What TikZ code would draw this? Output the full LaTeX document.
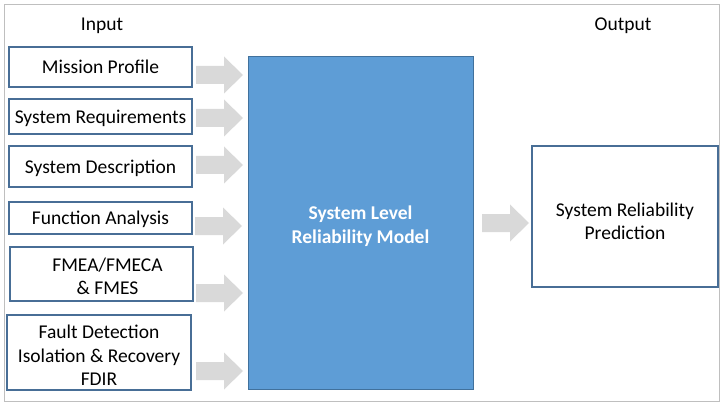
\documentclass[tikz,border=0pt]{standalone}
\usepackage{fontspec}
\setmainfont{Carlito}
\definecolor{boxline}{RGB}{72,110,150}
\definecolor{modelblue}{RGB}{94,157,214}
\definecolor{modelline}{RGB}{65,113,156}
\definecolor{arrowgray}{RGB}{217,217,217}
\definecolor{framegray}{RGB}{191,191,191}
\begin{document}
\begin{tikzpicture}[x=1pt,y=-1pt,
  txt/.style={font=\fontsize{19.5}{23.5}\selectfont, align=center, inner sep=0pt},
  inbox/.style={txt, draw=boxline, line width=1.1pt, fill=white, minimum width=183pt, text height=13.5pt, text depth=0pt},
  blockarrow/.pic={\fill[arrowgray] (0,-9)--(28,-9)--(28,-18.5)--(47,0)--(28,18.5)--(28,9)--(0,9)--cycle;}
]
\useasboundingbox (0,0) rectangle (726,409);
\draw[framegray, line width=1pt] (4,5) rectangle (719,401);

\node[txt] (inlabel) at (102,26) {Input};
\node[txt] (outlabel) at (623,26) {Output};

\node[inbox, minimum height=40pt] (mp) at (100.5,67) {Mission Profile};
\node[inbox, minimum height=35pt] (sr) at (100.5,116.5) {System Requirements};
\node[inbox, minimum height=41pt] (sd) at (100.5,166.5) {System Description};
\node[inbox, minimum height=32pt] (fa) at (100.5,218) {Function Analysis};
\node[inbox, minimum height=54pt,
  label={[txt, yshift=-2.5pt]center:{\hspace*{12pt}FMEA/FMECA\\\hspace*{12pt}\& FMES}}] (fm) at (101.5,274) {};
\node[inbox, minimum height=75pt, minimum width=184pt,
  label={[txt, yshift=-3pt]center:{Fault Detection\\Isolation \& Recovery\\FDIR}}] (fd) at (99,352.5) {};

\node[draw=modelline, line width=1pt, fill=modelblue, inner sep=0pt,
  minimum width=225pt, minimum height=332pt,
  label={[txt, text=white, font=\fontsize{19.5}{23.5}\selectfont\bfseries, yshift=-3pt]center:{System Level\\Reliability Model}}] (model) at (360.5,223) {};

\node[draw=boxline, line width=1.1pt, fill=white, inner sep=0pt, minimum width=186pt, minimum height=141pt,
  label={[txt, yshift=-5pt]center:{System Reliability\\Prediction}}] (pred) at (625,216.5) {};

\coordinate (a1) at (196,75);
\coordinate (a2) at (196,118);
\coordinate (a3) at (196,165);
\coordinate (a4) at (195,226);
\coordinate (a5) at (196,293);
\coordinate (a6) at (196,371);
\coordinate (a7) at (482,223);
\foreach \c in {a1,a2,a3,a4,a5,a6,a7} \pic at (\c) {blockarrow};
\end{tikzpicture}
\end{document}
